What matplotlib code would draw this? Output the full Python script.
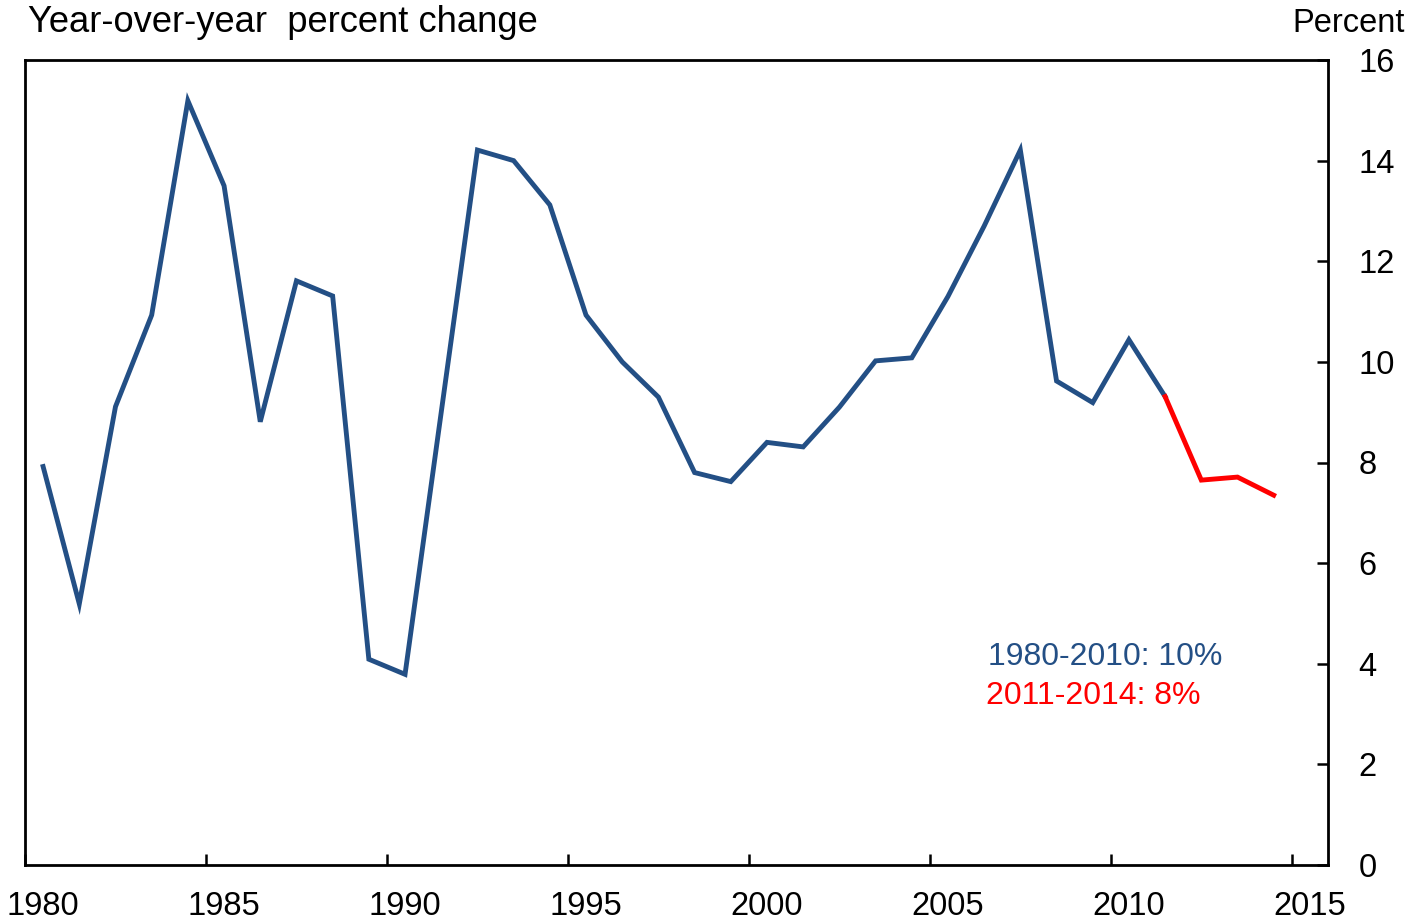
import matplotlib
matplotlib.use("Agg")
import matplotlib.pyplot as plt
from matplotlib.ticker import FixedLocator, NullFormatter

plt.rcParams['font.family'] = ['Liberation Sans', 'DejaVu Sans']

# Data (mid-year points)
years_hist = [1980.5, 1981.5, 1982.5, 1983.5, 1984.5, 1985.5, 1986.5, 1987.5,
              1988.5, 1989.5, 1990.5, 1991.5, 1992.5, 1993.5, 1994.5, 1995.5,
              1996.5, 1997.5, 1998.5, 1999.5, 2000.5, 2001.5, 2002.5, 2003.5,
              2004.5, 2005.5, 2006.5, 2007.5, 2008.5, 2009.5, 2010.5, 2011.5]
values_hist = [7.92, 5.19, 9.11, 10.93, 15.19, 13.50, 8.81, 11.61,
               11.31, 4.09, 3.79, 9.00, 14.21, 14.00, 13.12, 10.93,
               10.00, 9.30, 7.80, 7.62, 8.40, 8.31, 9.10, 10.02,
               10.08, 11.30, 12.70, 14.21, 9.62, 9.19, 10.44, 9.31]
years_recent = [2011.5, 2012.5, 2013.5, 2014.5]
values_recent = [9.31, 7.65, 7.71, 7.35]

tick_years = [1980, 1985, 1990, 1995, 2000, 2005, 2010, 2015]
tick_labels = [str(y) for y in tick_years]
y_ticks = [0, 2, 4, 6, 8, 10, 12, 14, 16]

BLUE = '#234f85'
RED = '#ff0000'

fig = plt.figure(figsize=(14.14, 9.23), dpi=100)
ax = fig.add_axes([25/1414, 58/923, (1328-25)/1414, (865-60)/923])

ax.plot(years_hist, values_hist, color=BLUE, lw=3.5, solid_joinstyle='miter')
ax.plot(years_recent, values_recent, color=RED, lw=3.5, solid_joinstyle='miter')

ax.set_xlim(1980, 2016)
ax.set_ylim(0, 16)

# x: tick marks at years, labels at mid-year
ax.xaxis.set_major_locator(FixedLocator(tick_years))
ax.xaxis.set_major_formatter(NullFormatter())
ax.xaxis.set_minor_locator(FixedLocator([y + 0.5 for y in tick_years]))
ax.set_xticklabels(tick_labels, minor=True)
ax.tick_params(axis='x', which='major', direction='in', length=8, width=1.8, top=False)
ax.tick_params(axis='x', which='minor', length=0, pad=19, labelsize=23.5)

# y on right
ax.yaxis.tick_right()
ax.set_yticks(y_ticks)
ax.tick_params(axis='y', which='major', direction='in', length=8, width=1.8,
               left=False, right=True, pad=22, labelsize=23.5)

for s in ax.spines.values():
    s.set_linewidth(2.0)
    s.set_color('black')

fig.text(28/1414, 1 - 23/923, 'Year-over-year  percent change', fontsize=26.2,
         ha='left', va='center')
fig.text(1405/1414, 1 - 23/923, 'Percent', fontsize=23.5, ha='right', va='center')

fig.text(988/1414, 1 - 657/923, '1980-2010: 10%', color=BLUE, fontsize=23,
         ha='left', va='center')
fig.text(986/1414, 1 - 696/923, '2011-2014: 8%', color=RED, fontsize=23,
         ha='left', va='center')

fig.savefig('out.png', dpi=100)
